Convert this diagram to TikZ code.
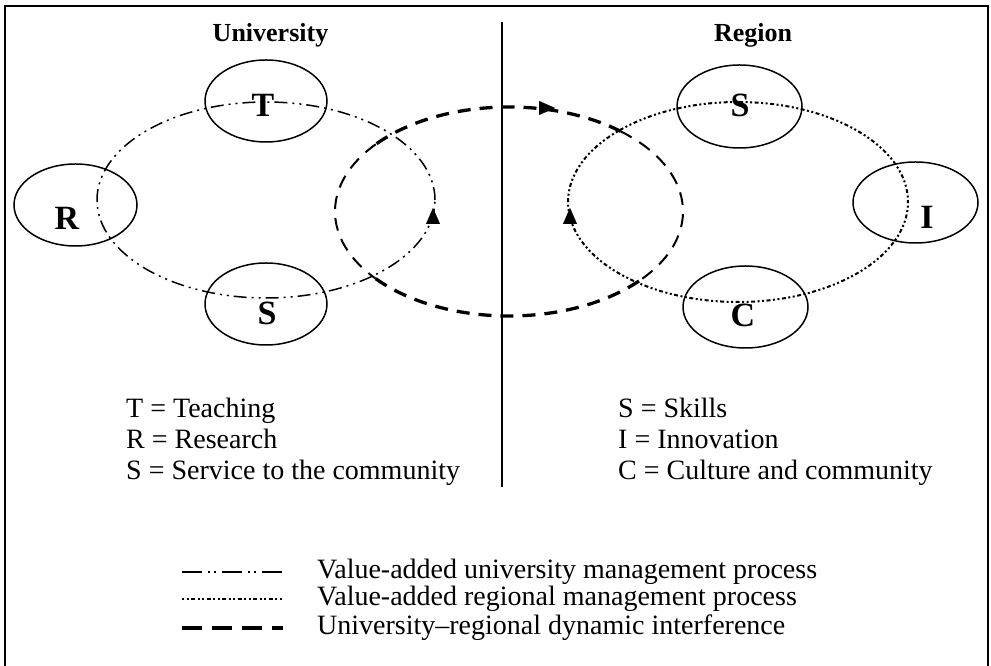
\documentclass[tikz,border=0pt]{standalone}
\usepackage{fontspec}
\setmainfont{Liberation Serif}
\usetikzlibrary{shapes.geometric,arrows.meta}
\begin{document}
\begin{tikzpicture}[x=1pt,y=1pt,
  circ/.style={draw=black,line width=1.5pt,ellipse,inner sep=0pt},
  lab/.style={font=\bfseries\fontsize{34}{36}\selectfont,inner sep=0pt},
  head/.style={font=\bfseries\fontsize{26}{28}\selectfont,inner sep=0pt},
  txt/.style={font=\fontsize{28}{30}\selectfont,inner sep=0pt,anchor=base west},
  unipath/.style={line width=1.5pt,dash pattern=on 13pt off 5pt on 2pt off 5pt on 2pt off 5pt},
  regpath/.style={line width=2pt,dash pattern=on 2pt off 2.5pt on 2pt off 2.5pt on 4pt off 2.5pt},
  dynpath/.style={dash pattern=on 13pt off 9pt},
  heavy/.style={dynpath,line width=3.3pt},
  light/.style={dynpath,line width=2pt},
  tip/.style={line width=0.01pt,-{Triangle[length=16pt,width=14pt]}}
]
\useasboundingbox (0,0) rectangle (991,666);
% frame
\draw[line width=1.3pt] (5,0) -- (5,660) -- (988,660) -- (988,0);
% divider
\coordinate (dtop) at (502,644);
\coordinate (dbot) at (502,179);
\draw[line width=2.5pt] (dtop) -- (dbot);
% headings
\node[head,anchor=base] (hU) at (270.5,624) {University};
\node[head,anchor=base] (hR) at (753,624) {Region};
% cycles
\coordinate (cu) at (266,466);
\coordinate (cr) at (738,464);
\coordinate (cd) at (509,454.5);
\draw[unipath] (cu) ellipse [x radius=169, y radius=98];
\draw[regpath] (cr) ellipse [x radius=170, y radius=100];
% dynamic interference loop, drawn in four arcs of differing weight
\draw[heavy] ([shift={(50:174 and 104.5)}]cd) arc[start angle=50, end angle=140, x radius=174, y radius=104.5];
\draw[light] ([shift={(140:174 and 104.5)}]cd) arc[start angle=140, end angle=220, x radius=174, y radius=104.5];
\draw[heavy] ([shift={(220:174 and 104.5)}]cd) arc[start angle=220, end angle=320, x radius=174, y radius=104.5];
\draw[light] ([shift={(320:174 and 104.5)}]cd) arc[start angle=320, end angle=410, x radius=174, y radius=104.5];
% arrowheads
\coordinate (ua1) at (433,442); \coordinate (ua2) at (433,458);
\coordinate (ra1) at (570,442); \coordinate (ra2) at (570,458);
\coordinate (da1) at (539,558); \coordinate (da2) at (555,558);
\draw[tip] (ua1) -- (ua2);
\draw[tip] (ra1) -- (ra2);
\draw[tip] (da1) -- (da2);
% university ellipses
\node[circ,minimum width=122pt,minimum height=82pt] (T) at (266,565) {};
\node[circ,minimum width=123pt,minimum height=82pt] (R) at (75.5,461) {};
\node[circ,minimum width=122pt,minimum height=82pt] (Su) at (266,362) {};
\node[lab] (Tl) at (263,561) {T};
\node[lab] (Rl) at (67,448) {R};
\node[lab] (Sul) at (267,353) {S};
% region ellipses
\node[circ,minimum width=125pt,minimum height=83pt] (Sr) at (739.5,559.5) {};
\node[circ,minimum width=125pt,minimum height=81pt] (I) at (915.5,463.5) {};
\node[circ,minimum width=125pt,minimum height=82pt] (C) at (745.5,359) {};
\node[lab] (Srl) at (740,561) {S};
\node[lab] (Il) at (927,449) {I};
\node[lab] (Cl) at (743,351) {C};
% key texts
\node[txt] (k1) at (126,248) {T = Teaching};
\node[txt] (k2) at (126,217) {R = Research};
\node[txt] (k3) at (126,186) {S = Service to the community};
\node[txt] (k4) at (618,248) {S = Skills};
\node[txt] (k5) at (618,217) {I = Innovation};
\node[txt] (k6) at (618,186) {C = Culture and community};
% legend
\coordinate (l1a) at (182,94); \coordinate (l1b) at (283,94);
\coordinate (l2a) at (182,67); \coordinate (l2b) at (283,67);
\coordinate (l3a) at (182,38); \coordinate (l3b) at (283,38);
\draw[line width=2.4pt,dash pattern=on 20pt off 6pt on 2pt off 4pt on 2pt off 6pt] (l1a) -- (l1b);
\draw[line width=2pt,dash pattern=on 2pt off 2.5pt on 2pt off 2.5pt on 4pt off 2.5pt] (l2a) -- (l2b);
\draw[line width=4.5pt,dash pattern=on 20pt off 10pt] (l3a) -- (l3b);
\node[txt] (g1) at (317,87) {Value-added university management process};
\node[txt] (g2) at (317,60) {Value-added regional management process};
\node[txt] (g3) at (317,31) {University–regional dynamic interference};
\end{tikzpicture}
\end{document}
